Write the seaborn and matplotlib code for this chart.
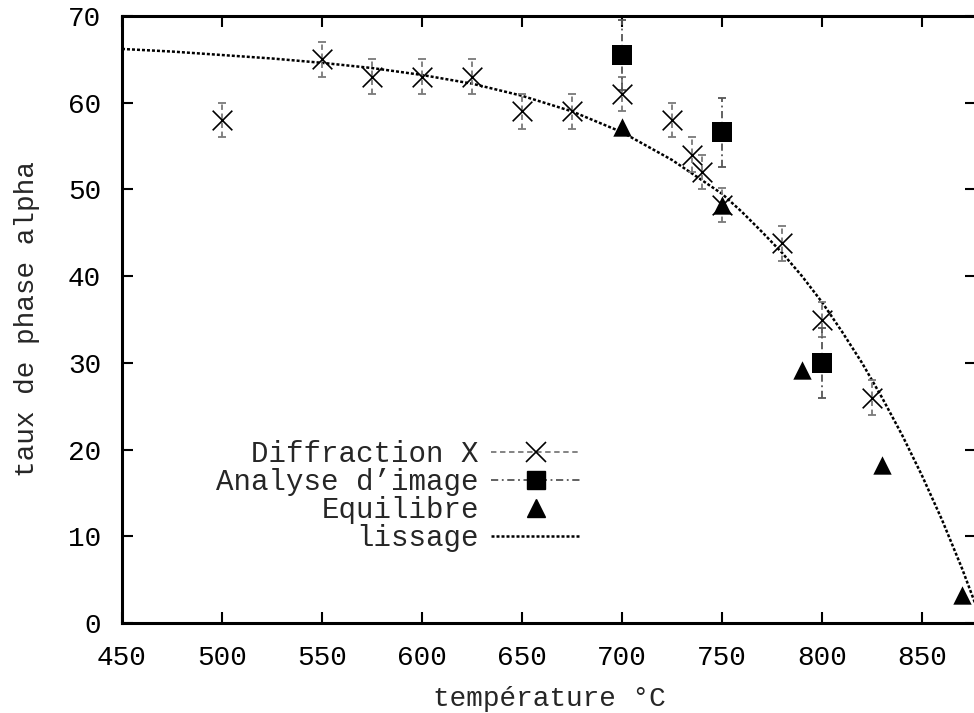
import numpy as np
import pandas as pd
import matplotlib
matplotlib.use("Agg")
import matplotlib.pyplot as plt
import seaborn as sns
from matplotlib.lines import Line2D

# ---- data ----
diff_T = [500, 550, 575, 600, 625, 650, 675, 700, 725, 735, 740, 750, 780, 800, 825]
diff_val = [58, 65, 63, 63, 63, 59, 59, 61, 58, 54, 52, 48.2, 43.8, 35, 26]
diff_err = [2, 2, 2, 2, 2, 2, 2, 2, 2, 2, 2, 2, 2, 2, 2]

img_T = [700, 750, 800]
img_val = [65.5, 56.6, 30]
img_err = [4, 4, 4]

eq_T = [700, 750, 790, 830, 870]
eq_val = [57.2, 48.2, 29.2, 18.2, 3.2]

fit_T = [450, 475, 500, 525, 550, 575, 600, 625, 650, 675, 700, 725, 750, 760,
         770, 780, 790, 800, 810, 820, 830, 840, 850, 860, 870, 877]
fit_val = [66.2, 65.9, 65.5, 65.1, 64.6, 64.0, 63.2, 62.2, 60.8, 59.0, 56.6, 53.4,
           49.5, 47.4, 45.1, 42.7, 40.0, 37.0, 33.6, 30.0, 26.0, 21.7, 17.0, 11.9,
           6.3, 2.0]

labels = ["Diffraction X", "Analyse d\u2019image", "Equilibre", "lissage"]
xticks = [450, 500, 550, 600, 650, 700, 750, 800, 850]
yticks = [0, 10, 20, 30, 40, 50, 60, 70]

sns.set_theme(style="ticks")
plt.rcParams['font.family'] = ['Liberation Mono', 'DejaVu Sans Mono']
FS = 20

fig = plt.figure(figsize=(9.74, 7.13), dpi=100)
ax = fig.add_axes([122 / 974, 90 / 713, 854 / 974, 607 / 713])

df_fit = pd.DataFrame({"T": fit_T, "v": fit_val})
sns.lineplot(data=df_fit, x="T", y="v", ax=ax, color="black", lw=1.8,
             dashes=False, zorder=2)
ax.lines[-1].set_dashes((1.2, 0.8))

# error bars
eb1 = ax.errorbar(diff_T, diff_val, yerr=diff_err, fmt="none", ecolor="#7a7a7a",
                  elinewidth=1.3, capsize=3, capthick=1.3, zorder=3)
eb1[2][0].set_linestyle((0, (3, 2)))
eb2 = ax.errorbar(img_T, img_val, yerr=img_err, fmt="none", ecolor="#555555",
                  elinewidth=1.3, capsize=3, capthick=1.3, zorder=3)
eb2[2][0].set_linestyle((0, (4, 2, 1, 2)))

df_d = pd.DataFrame({"T": diff_T, "v": diff_val})
df_i = pd.DataFrame({"T": img_T, "v": img_val})
df_e = pd.DataFrame({"T": eq_T, "v": eq_val})
sns.scatterplot(data=df_d, x="T", y="v", ax=ax, marker="x", s=200, color="black",
                linewidth=1.2, zorder=4)
sns.scatterplot(data=df_i, x="T", y="v", ax=ax, marker="s", s=190, color="black",
                edgecolor="black", linewidth=0, zorder=4)
sns.scatterplot(data=df_e, x="T", y="v", ax=ax, marker="^", s=175, color="black",
                edgecolor="black", linewidth=0, zorder=4)

ax.set_xlim(450, 877)
ax.set_ylim(0, 70)
ax.set_xticks(xticks)
ax.set_yticks(yticks)
ax.tick_params(axis="both", direction="in", length=8, width=1.5, labelsize=FS,
               colors="black")
ax.tick_params(axis="x", top=True, pad=16)
ax.tick_params(axis="y", right=True, pad=15)
for s in ["left", "bottom", "top"]:
    ax.spines[s].set_linewidth(2.2)
    ax.spines[s].set_color("black")
ax.spines["right"].set_visible(False)

ax.set_xlabel("température °C", fontsize=FS, labelpad=11)
ax.set_ylabel("taux de phase alpha", fontsize=FS, labelpad=20)

handles = [
    Line2D([], [], color="#7a7a7a", ls=(0, (3, 2)), lw=1.3, marker="x",
           markersize=14, markeredgecolor="black", markeredgewidth=1.2),
    Line2D([], [], color="#555555", ls=(0, (4, 2, 1, 2)), lw=1.3, marker="s",
           markersize=13.5, markerfacecolor="black", markeredgecolor="black"),
    Line2D([], [], color="none", marker="^", markersize=13,
           markerfacecolor="black", markeredgecolor="black"),
    Line2D([], [], color="black", ls=(0, (1.2, 0.8)), lw=1.8),
]
leg = ax.legend(handles, labels, loc="upper right",
                bbox_to_anchor=(581 / 974, (713 - 440) / 713),
                bbox_transform=fig.transFigure, frameon=False, markerfirst=False,
                fontsize=21, handlelength=3.1, handletextpad=0.4, labelspacing=0.0,
                borderpad=0, borderaxespad=0)
for t in leg.get_texts():
    t.set_ha("right")

fig.savefig("out.png", dpi=100)
